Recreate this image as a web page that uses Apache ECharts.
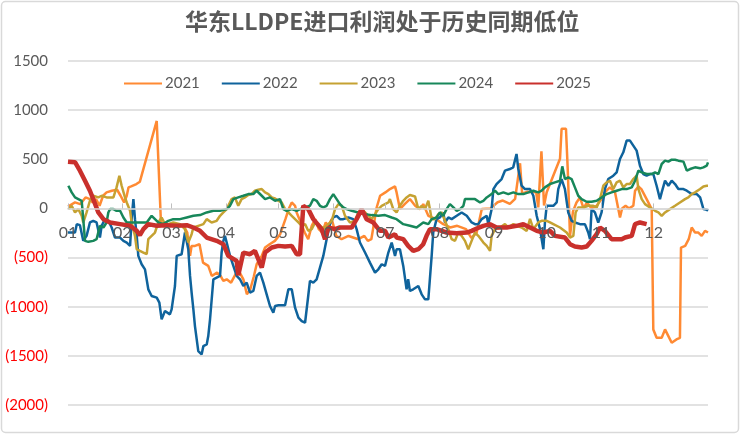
<!DOCTYPE html>
<html>
<head>
<meta charset="utf-8">
<script src="https://cdn.jsdelivr.net/npm/echarts@6/dist/echarts.min.js"></script>
<style>
html,body{margin:0;padding:0;background:#fff;}
#c{width:740px;height:434px;}
</style>
</head>
<body>
<div id="c"></div>
<script>
// x = day of year (0 = 1 Jan), y = profit (yuan/t)
const monthStarts = [0,31,59,90,120,151,181,212,243,273,304,334];
const monthLabels = ['01','02','03','04','05','06','07','08','09','10','11','12'];
const yMin = -2000, yMax = 1500, yStep = 500;

const d2021 = [[0,20],[1,0],[4,61],[7,44],[10,112],[12.5,95],[14,61],[16,95],[18,27],[20,129],[22,163],[25,180],[28,190],[30,129],[32,61],[33.5,129],[34.5,214],[36,224],[39,248],[41,272],[42,290],[50.6,890],[53,-140],[56,-160],[62,-160],[66,-177],[68,-245],[69.6,-483],[70.5,-381],[72.4,-381],[75,-364],[77,-551],[80,-585],[82,-687],[85,-653],[87,-687],[88.6,-738],[90.5,-721],[93,-755],[97,-620],[100,-721],[102,-874],[104,-820],[106,-690],[107.6,-568],[110.5,-483],[112.4,-398],[115,-364],[118,-330],[121,-262],[124,-109],[126,0],[127.6,61],[129.5,27],[130.4,-41],[132,-109],[135,-245],[137,-313],[139,-177],[141,-109],[143,-211],[145,-245],[147,-143],[148.5,-177],[150.4,-109],[153,-279],[156,-313],[160,-280],[165.6,-313],[169,-279],[171,-330],[173,-313],[176,7],[178,129],[181,163],[183.6,197],[186.5,224],[187.4,163],[189.3,-7],[192,44],[195,95],[198,27],[200.7,-7],[202.6,44],[205.5,-75],[210,-109],[214,-160],[218,-194],[222,-177],[227,-211],[230,-300],[233,-250],[236,-5],[241,0],[245,63],[248,80],[252,46],[255,97],[257.8,460],[259,150],[262,170],[267,165],[268.2,10],[270,580],[271.5,30],[273,165],[280.6,505],[281.5,811],[284,811],[285,400],[286.3,-279],[288,-30],[290,61],[292,112],[294,0],[296,61],[298.6,0],[301.5,27],[304.3,95],[306.2,163],[309,214],[312,163],[314.8,-92],[316,0],[318,27],[320,0],[322.4,27],[323.4,180],[325.3,224],[327,197],[330,95],[332.9,-7],[333.8,-1231],[335.7,-1316],[338.6,-1316],[340.5,-1231],[342.4,-1299],[344.3,-1367],[347,-1333],[349,-1316],[349.6,-398],[352,-381],[354,-313],[355.7,-194],[357.6,-245],[359.5,-245],[361.4,-279],[363.3,-228],[365,-245]];

const d2022 = [[0,-245],[4,-245],[5,-160],[6.8,-170],[8.7,-330],[10.6,-279],[12.5,-143],[14.4,-126],[16.3,-143],[18.2,-296],[19.2,-177],[21.1,-109],[23,-126],[24.9,-194],[26.8,-296],[29.7,-296],[31.6,-330],[33.5,-347],[35.4,-381],[36.3,-109],[37.3,95],[38.2,-109],[39.2,-279],[40.1,-483],[42,-568],[43.9,-620],[45.8,-823],[47.7,-891],[50.6,-908],[52.1,-959],[53.4,-1129],[55.3,-1044],[56.3,-1061],[58.1,-1078],[59.1,-1027],[61,-789],[62,-483],[64.8,-466],[66.7,-245],[68.6,-415],[69.6,-687],[70.5,-857],[71.5,-1027],[72.4,-1197],[74.3,-1452],[76.2,-1486],[77.2,-1401],[79.1,-1384],[80,-1299],[81,-1129],[82.9,-721],[84.8,-704],[86.7,-687],[87.6,-449],[88.6,-330],[89.5,-279],[90.5,-347],[92.4,-483],[94.3,-585],[96.2,-687],[98.1,-721],[100,-789],[101.9,-755],[103.8,-857],[105.7,-840],[107.6,-687],[109.5,-653],[111.4,-755],[113.3,-874],[115.2,-993],[117.1,-1061],[118.1,-993],[120,-986],[123.8,-986],[125.7,-823],[127.6,-823],[129.5,-1010],[131.4,-1112],[133.3,-1146],[135.2,-1163],[137,-891],[138,-738],[139.9,-755],[141.8,-721],[143.7,-602],[145.6,-483],[147.5,-313],[149.4,-160],[151.3,-92],[153.2,-75],[155.1,-109],[157,-109],[159.9,-92],[162.7,-109],[164.6,-211],[166.5,-347],[169.4,-449],[172.2,-551],[175.1,-653],[177,-619],[178.9,-568],[180.8,-585],[182.7,-449],[184.6,-347],[186.5,-483],[187.4,-415],[189.3,-415],[191.2,-585],[193.1,-823],[194,-721],[195,-840],[196.9,-823],[199.8,-789],[201.7,-874],[203.6,-925],[205.5,-925],[207.4,-483],[208.3,-245],[210.2,-109],[212.1,-92],[214,-41],[215,-143],[216.9,-92],[218.8,-109],[221.7,-75],[224.5,-41],[227.4,-75],[230.2,-143],[232.1,-160],[234,-160],[235.9,-109],[238.8,-75],[239.7,-160],[241.6,-7],[242.6,197],[244.4,248],[247.3,299],[249.2,384],[252,401],[253.9,418],[255.8,554],[256.8,401],[258.7,231],[260.6,197],[263.5,197],[265.4,129],[267.3,-75],[269.2,-211],[271.1,-415],[272,-143],[273,27],[276.8,27],[278.7,61],[279.6,197],[281.5,299],[283.4,197],[285.3,-41],[287.2,-126],[289.1,-143],[292,-160],[294.8,-160],[296.7,-245],[297.7,-313],[298.6,-7],[300.5,-41],[302.4,-143],[304.3,-41],[306.2,197],[308.1,299],[311,333],[312.9,367],[314.8,503],[316.7,571],[318.6,690],[320.5,690],[322.4,639],[324.3,588],[326.2,435],[328.1,350],[330,333],[331.9,350],[333.8,350],[335.7,231],[337.6,95],[338.6,163],[340.5,282],[342.4,231],[344.3,282],[346.2,248],[348.1,197],[351,197],[352.9,180],[355.7,146],[358.6,146],[360.5,112],[362.4,-7],[364.3,-14],[365,-24]];

const d2023 = [[0.2,-7],[2.1,27],[4,-41],[5.9,-7],[7.8,-75],[8.7,-143],[10.6,-41],[12.5,78],[14.4,129],[17.3,112],[19.2,129],[22,112],[25.9,112],[27.7,214],[29.3,333],[30.6,231],[32.5,112],[33.5,61],[35.4,-24],[36.3,-143],[38.2,-279],[39.2,-415],[41,-432],[43,-449],[44.9,-466],[45.8,-313],[46.8,-296],[49.6,-245],[51.5,-143],[53.4,-92],[55.3,-160],[57.2,-160],[60,-143],[63.9,-160],[66.7,-211],[68.6,-347],[70.5,-262],[71.5,-194],[74.3,-177],[77.2,-160],[79.1,-109],[81.9,-143],[84.8,-126],[86.7,-75],[88.6,-41],[90.5,-7],[91.4,27],[93.3,95],[95.2,112],[97.1,27],[99,95],[100.9,112],[102.8,136],[104.7,146],[106.6,180],[108.5,190],[110.5,197],[112.4,163],[114.3,146],[116.2,112],[118.1,102],[120,78],[121.9,61],[123.8,-7],[125.7,-41],[127.6,-75],[129.5,-109],[131.4,-143],[133.3,-177],[135.2,-160],[137,-228],[139,-211],[140.9,-143],[142.8,-160],[144.7,-194],[146.6,-194],[148.5,-160],[150.4,-126],[152.3,-7],[154.2,44],[156.1,27],[158,-75],[160.8,-143],[163.7,-126],[165.6,-41],[167.5,-7],[169.4,-41],[173.2,-109],[177,-7],[178.9,27],[180.8,44],[182.7,61],[183.6,95],[185.5,-7],[187.4,-41],[189.3,27],[191.2,78],[193.1,112],[195,136],[197.9,122],[199.8,-7],[201.7,27],[203.6,-7],[205.5,78],[206.4,-7],[207.4,-109],[209.3,-109],[211.2,-58],[213.1,-41],[215,-126],[216.9,-211],[218.8,-313],[220.7,-330],[222.6,-245],[224.5,-279],[226.4,-330],[228.3,-415],[230.2,-330],[232.1,-245],[234,-279],[236.9,-347],[238.8,-381],[240.7,-432],[241.6,-279],[243.5,-211],[246.4,-194],[249.2,-160],[251.1,-194],[254,-160],[255.9,-177],[258.7,-194],[261.6,-228],[263.5,-107],[265.4,-211],[268.2,-143],[270.1,-126],[273,-126],[274.9,-143],[276.8,-160],[280.6,-194],[284.4,-245],[286.3,-296],[288.2,-279],[289.5,-41],[291,10],[293.9,10],[296.7,27],[299.6,27],[301.5,10],[303.4,95],[305.3,231],[307.2,265],[309.1,282],[311,197],[312.9,265],[314.8,282],[316.7,214],[318.6,248],[320.5,248],[322.4,299],[324.3,333],[325.3,197],[327.2,95],[329.1,44],[331.9,10],[334.8,-24],[336.7,-41],[338.6,-75],[340.5,-41],[343.3,-7],[346.2,27],[349,61],[351.9,95],[353.8,112],[355.7,146],[357.6,163],[360.5,197],[362.4,224],[364.3,231],[365,231]];

const d2024 = [[0.2,231],[2.1,163],[4,112],[5.9,95],[7.8,78],[8.7,-109],[9.7,-330],[11.6,-340],[14.4,-330],[16.3,-313],[18.2,-177],[20.2,-194],[22,-143],[23,-41],[24,-7],[25.9,-7],[27.7,-24],[29.7,-24],[31.6,-92],[33.5,-143],[37.3,-143],[41,-143],[44.9,-143],[47.7,-75],[49.6,-109],[51.5,-143],[54.4,-160],[57.2,-126],[60,-109],[63.9,-109],[67.7,-92],[71.5,-75],[75.3,-68],[79.1,-41],[82.9,-24],[86.7,-24],[90.5,-7],[92.4,27],[94.3,95],[97.1,112],[100,129],[102.8,146],[105.7,146],[107.6,180],[110.5,129],[112.4,95],[115.2,112],[118.1,78],[120.9,95],[122.8,-7],[124.7,-24],[127.6,-7],[130.4,-24],[132.3,-7],[135.2,10],[138,27],[139.9,95],[141.8,78],[143.7,27],[145.6,10],[147.5,27],[149.4,95],[151.3,146],[153.2,95],[155.1,44],[157,10],[158.9,-7],[161.8,-24],[165.6,-41],[169.4,-58],[173.2,-68],[177,-75],[180.8,-68],[184.6,-92],[187.4,-109],[191.2,-160],[195,-177],[198.8,-194],[202.6,-143],[205.5,-160],[207.4,-109],[210.2,-92],[212.1,-41],[214,-75],[215.9,-7],[217.8,44],[219.8,10],[221.7,-24],[223.6,-7],[225.5,27],[226.4,95],[229.3,95],[232.1,95],[235,61],[236.9,78],[238.8,112],[241.6,146],[243.5,180],[245.4,146],[248.3,163],[251.1,146],[254,163],[256.8,146],[259.7,146],[262.6,163],[265.4,180],[268.2,163],[270.1,180],[272,214],[274.9,248],[277.7,265],[280.6,282],[281.9,428],[283.4,299],[285.3,316],[287.2,299],[289.1,214],[291,129],[292.9,95],[295.8,68],[298.6,68],[301.5,78],[304.3,112],[307.2,146],[310,163],[312.9,180],[315.8,197],[318.6,197],[321.5,214],[323.4,282],[325.3,384],[327.2,367],[330,350],[332.9,350],[334.8,367],[336.7,350],[338.6,452],[340.5,486],[342.4,476],[344.3,496],[346.2,496],[348.1,486],[351,476],[352.9,384],[354.8,401],[357.6,418],[360.5,408],[362.4,418],[364.3,435],[365,469]];

const d2025 = [[0,476],[4,470],[6.8,384],[9.7,282],[12.5,180],[14.4,95],[17.3,-41],[20.2,-109],[24,-143],[29.7,-160],[35.4,-177],[39.2,-228],[41,-272],[43,-211],[45.8,-160],[50.6,-177],[56.3,-170],[62,-177],[67.7,-170],[71.5,-194],[75.3,-228],[79.1,-296],[84.8,-330],[88.6,-364],[91.4,-483],[96.2,-534],[97.1,-680],[100,-449],[103.8,-466],[106.6,-432],[110.5,-602],[112.4,-449],[116.2,-398],[120,-381],[123.8,-388],[127.6,-381],[130.4,-466],[132.3,-466],[134.2,27],[137,-7],[139.9,-109],[144.7,-211],[146.6,-313],[148.5,-194],[152.3,-211],[155.1,-194],[161.8,-194],[164.6,-109],[167.5,-7],[170.3,-109],[174.1,-143],[177.9,-228],[180.8,-228],[182.7,-296],[186.5,-262],[187.4,-296],[191.2,-313],[194,-381],[196.9,-432],[199.8,-415],[202.6,-364],[204.5,-279],[206.4,-211],[210.2,-211],[215.9,-245],[221.7,-252],[227.4,-245],[230.2,-228],[233.1,-204],[236.9,-177],[240.7,-160],[244.4,-194],[250.2,-194],[255.9,-177],[259.7,-160],[263.5,-194],[267.3,-228],[271.1,-245],[274.9,-228],[277.7,-279],[283.4,-296],[286.3,-364],[289.1,-388],[292.9,-398],[295.8,-388],[298.6,-330],[301.5,-262],[303.4,-194],[306.2,-228],[310,-313],[315.8,-313],[317.7,-296],[321.5,-279],[323.4,-160],[326.2,-143],[330,-160]];

const seriesNames = ['2021','2022','2023','2024','2025'];
const seriesData = [d2021, d2022, d2023, d2024, d2025];
const colors = ['#FF8A33','#0F639C','#C5A232','#17875A','#C9302C'];
const widths = [2.5,2.5,2.5,2.5,4.5];

const W = 740, H = 434;
const grid = {left: 68, right: 32, top: 61, bottom: 29};
const plotH = H - grid.top - grid.bottom;
// place the date axis on the zero line of the value axis
const zeroOffset = -plotH * (0 - yMin) / (yMax - yMin);

const chart = echarts.init(document.getElementById('c'));
const font = 'Lato, "Noto Sans", sans-serif';
chart.setOption({
  animation: false,
  backgroundColor: '#ffffff',
  color: colors,
  title: {
    text: '华东LLDPE进口利润处于历史同期低位',
    left: 180, top: 5,
    textStyle: {fontFamily: '"Noto Sans CJK SC", sans-serif', fontSize: 23, fontWeight: 'bold', color: '#595959'}
  },
  legend: {
    top: 71, left: 118,
    itemWidth: 38, itemHeight: 14, itemGap: 21,
    itemStyle: {opacity: 0},
    textStyle: {fontFamily: font, fontSize: 15, color: '#595959', padding: [0,0,0,-2]},
    data: seriesNames
  },
  grid: Object.assign({containLabel: false}, grid),
  xAxis: {
    type: 'value', min: 0, max: 365, position: 'bottom', offset: zeroOffset, z: 20,
    axisLine: {onZero: false, lineStyle: {color: '#D9D9D9', width: 1.5}},
    axisTick: {show: true, customValues: monthStarts, length: 5, inside: true, lineStyle: {color: '#BFBFBF'}},
    splitLine: {show: false},
    axisLabel: {
      customValues: monthStarts,
      formatter: v => monthLabels[monthStarts.indexOf(Math.round(v))] || '',
      fontFamily: font, fontSize: 16, color: '#595959', margin: 16
    }
  },
  yAxis: {
    type: 'value', min: yMin, max: yMax, interval: yStep,
    axisLine: {show: false, onZero: false}, axisTick: {show: false},
    splitLine: {lineStyle: {color: '#D9D9D9', width: 1.5}},
    axisLabel: {
      margin: 20, fontFamily: font, fontSize: 15,
      formatter: v => v < 0 ? '{n|(' + Math.abs(v) + ')}' : '{p|' + v + '}',
      rich: {p: {color: '#595959', fontFamily: font, fontSize: 15}, n: {color: '#FF0000', fontFamily: font, fontSize: 15}}
    }
  },
  graphic: [{type: 'rect', shape: {x: 1.5, y: 1.5, width: 737, height: 431, r: 4}, style: {fill: 'none', stroke: '#D9D9D9', lineWidth: 1.5}, silent: true, z: -1}],
  series: seriesNames.map((n, i) => ({
    name: n, type: 'line', data: seriesData[i], showSymbol: false, symbol: 'none',
    lineStyle: {width: widths[i], color: colors[i]}, itemStyle: {color: colors[i]},
    z: i + 2
  }))
});
</script>
</body>
</html>
